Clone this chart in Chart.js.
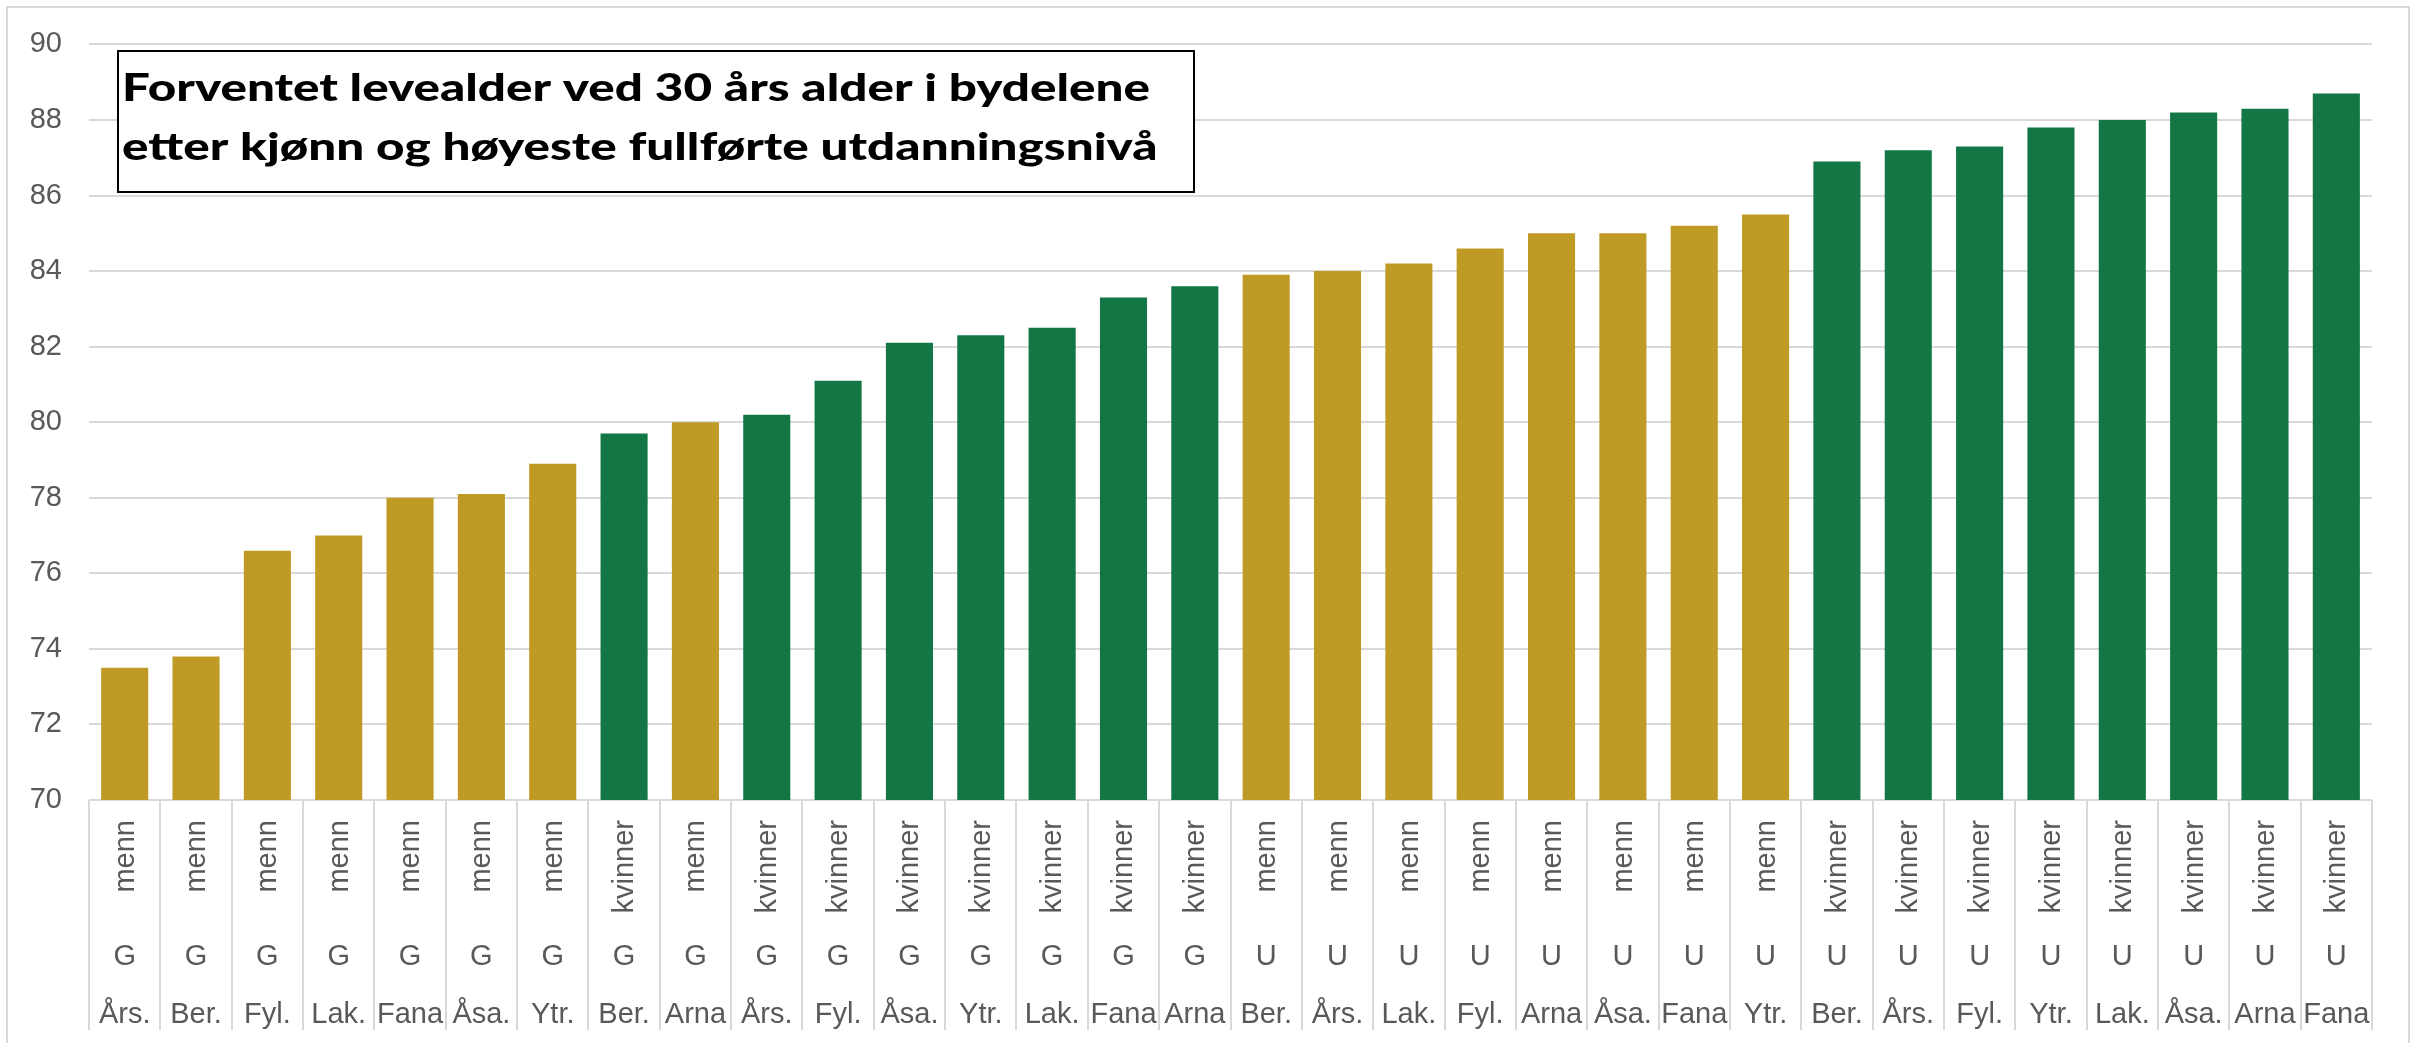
<!DOCTYPE html>
<html>
<head>
<meta charset="utf-8">
<script src="https://cdn.jsdelivr.net/npm/chart.js@4/dist/chart.umd.min.js"></script>
<style>
    body { margin: 0; background: #fff; }
    #wrap { width: 2423px; height: 1043px; }
</style>
</head>
<body>
<div id="wrap"><canvas id="myChart" width="2423" height="1043"></canvas></div>
<script>
// data
const districts = ["Års.", "Ber.", "Fyl.", "Lak.", "Fana", "Åsa.", "Ytr.", "Ber.", "Arna", "Års.", "Fyl.", "Åsa.", "Ytr.", "Lak.", "Fana", "Arna",
    "Ber.", "Års.", "Lak.", "Fyl.", "Arna", "Åsa.", "Fana", "Ytr.", "Ber.", "Års.", "Fyl.", "Ytr.", "Lak.", "Åsa.", "Arna", "Fana"];
const levels = ["G", "G", "G", "G", "G", "G", "G", "G", "G", "G", "G", "G", "G", "G", "G", "G",
    "U", "U", "U", "U", "U", "U", "U", "U", "U", "U", "U", "U", "U", "U", "U", "U"];
const sexes = ["menn", "menn", "menn", "menn", "menn", "menn", "menn", "kvinner", "menn", "kvinner", "kvinner", "kvinner", "kvinner", "kvinner", "kvinner", "kvinner",
    "menn", "menn", "menn", "menn", "menn", "menn", "menn", "menn", "kvinner", "kvinner", "kvinner", "kvinner", "kvinner", "kvinner", "kvinner", "kvinner"];
const lifeExp = [73.5, 73.8, 76.6, 77.0, 78.0, 78.1, 78.9, 79.7, 80.0, 80.2, 81.1, 82.1, 82.3, 82.5, 83.3, 83.6,
    83.9, 84.0, 84.2, 84.6, 85.0, 85.0, 85.2, 85.5, 86.9, 87.2, 87.3, 87.8, 88.0, 88.2, 88.3, 88.7];
const titleLines = ["Forventet levealder ved 30 års alder i bydelene", "etter kjønn og høyeste fullførte utdanningsnivå"];

const GOLD = "#bf9b25";
const GREEN = "#127745";
const GRID = "#d9d9d9";
const TEXT = "#595959";
const LABEL_FONT = "29px 'Liberation Sans', Arial, sans-serif";

const barColors = sexes.map(function (s) { return s === "menn" ? GOLD : GREEN; });

const frame = {
    id: "frame",
    beforeDraw: function (chart) {
        const c = chart.ctx;
        c.save();
        c.fillStyle = "#fff";
        c.fillRect(0, 0, chart.width, chart.height);
        c.strokeStyle = GRID;
        c.lineWidth = 2;
        c.strokeRect(7, 7, 2402, 1060);
        c.restore();
    }
};

// multi level category axis like in excel
const multiAxis = {
    id: "multiAxis",
    afterDraw: function (chart) {
        const c = chart.ctx;
        const x = chart.scales.x;
        const area = chart.chartArea;
        const step = (area.right - area.left) / districts.length;
        c.save();
        c.strokeStyle = GRID;
        c.lineWidth = 2;
        for (let i = 0; i <= districts.length; i++) {
            const px = Math.round(area.left + i * step);
            c.beginPath();
            c.moveTo(px, area.bottom);
            c.lineTo(px, 1030);
            c.stroke();
        }
        c.fillStyle = TEXT;
        c.font = LABEL_FONT;
        districts.forEach(function (d, i) {
            const cx = x.getPixelForValue(i);
            c.save();
            c.translate(cx + 1, 820);
            c.rotate(-Math.PI / 2);
            c.textAlign = "right";
            c.textBaseline = "middle";
            c.fillText(sexes[i], 0, 0);
            c.restore();
            c.textAlign = "center";
            c.textBaseline = "middle";
            c.fillText(levels[i], cx, 957);
            c.textBaseline = "alphabetic";
            c.fillText(d, cx, 1023);
        });
        c.restore();
    }
};

const titleBox = {
    id: "titleBox",
    afterDraw: function (chart) {
        const c = chart.ctx;
        c.save();
        c.fillStyle = "#fff";
        c.fillRect(118, 51, 1076, 141);
        c.strokeStyle = "#000";
        c.lineWidth = 2;
        c.strokeRect(118, 51, 1076, 141);
        c.fillStyle = "#000";
        c.font = "900 38px Lato, 'Open Sans', sans-serif";
        c.textAlign = "left";
        c.textBaseline = "alphabetic";
        const sx = 1028 / c.measureText(titleLines[0]).width;
        c.translate(122, 0);
        c.scale(sx, 1);
        c.fillText(titleLines[0], 0, 101);
        c.fillText(titleLines[1], 0, 160);
        c.restore();
    }
};

const ctx = document.getElementById("myChart");

new Chart(ctx, {
    type: "bar",
    data: {
        labels: districts.map(function (d, i) { return sexes[i] + " " + levels[i] + " " + d; }),
        datasets: [
            {
                label: "Forventet levealder",
                data: lifeExp,
                backgroundColor: barColors,
                borderWidth: 0,
                barPercentage: 0.66,
                categoryPercentage: 1,
            },
        ],
    },
    options: {
        responsive: false,
        animation: false,
        layout: { padding: { top: 44, right: 51, bottom: 0, left: 0 } },
        plugins: {
            legend: { display: false },
            title: { display: false },
            tooltip: { enabled: false },
        },
        scales: {
            x: {
                ticks: { display: false },
                grid: { display: false },
                border: { display: false },
                afterFit: function (scale) { scale.height = 243; },
            },
            y: {
                min: 70,
                max: 90,
                ticks: {
                    stepSize: 2,
                    color: TEXT,
                    font: { family: "'Liberation Sans', Arial, sans-serif", size: 29 },
                    padding: 27,
                },
                grid: { color: GRID, lineWidth: 2, drawTicks: false },
                border: { display: false },
                afterFit: function (scale) { scale.width = 89; },
            },
        },
    },
    plugins: [frame, multiAxis, titleBox],
});
</script>
</body>
</html>
